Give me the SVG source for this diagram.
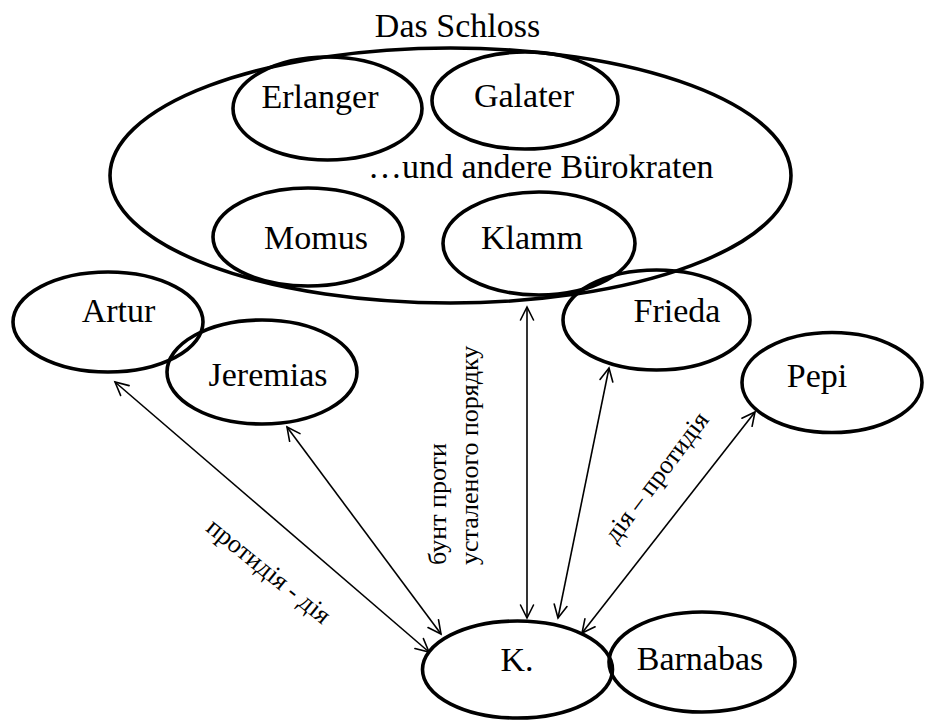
<svg xmlns="http://www.w3.org/2000/svg" width="936" height="720" viewBox="0 0 936 720">
  <style>
    .node { fill: none; stroke: #000; stroke-width: 3.6; }
    .lbl { font-family: "Times New Roman", "Liberation Serif", "DejaVu Serif", serif; font-size: 34px; fill: #000; text-anchor: middle; }
    .edge { fill: none; stroke: #000; stroke-width: 1.6; }
    .tip { fill: none; stroke: #000; stroke-width: 1.6; stroke-linecap: round; stroke-linejoin: miter; }
    .note { font-family: "Times New Roman", "Liberation Serif", "DejaVu Serif", serif; font-size: 26px; fill: #000; }
  </style>
  <rect width="936" height="720" fill="#fff"/>

  <!-- castle with its bureaucrats -->
  <g id="schloss">
    <ellipse class="node" cx="450.5" cy="175.5" rx="340.5" ry="127.5"/>
    <text class="lbl" x="457.5" y="37">Das Schloss</text>
    <text class="lbl" x="368" y="178" text-anchor="start" style="text-anchor:start">…und andere Bürokraten</text>
  </g>
  <g id="erlanger">
    <ellipse class="node" cx="327.5" cy="108.5" rx="94.5" ry="51.5"/>
    <text class="lbl" x="320" y="108">Erlanger</text>
  </g>
  <g id="galater">
    <ellipse class="node" cx="525" cy="100.5" rx="93" ry="48.5"/>
    <text class="lbl" x="524" y="107">Galater</text>
  </g>
  <g id="momus">
    <ellipse class="node" cx="308" cy="237" rx="95" ry="49"/>
    <text class="lbl" x="316" y="249">Momus</text>
  </g>
  <g id="klamm">
    <ellipse class="node" cx="539" cy="243.5" rx="96" ry="51.5"/>
    <text class="lbl" x="532" y="249">Klamm</text>
  </g>

  <!-- people around K. -->
  <g id="artur">
    <ellipse class="node" cx="108" cy="322" rx="95" ry="50"/>
    <text class="lbl" x="118.5" y="321.5">Artur</text>
  </g>
  <g id="jeremias">
    <ellipse class="node" cx="262" cy="372" rx="95" ry="52"/>
    <text class="lbl" x="268" y="386">Jeremias</text>
  </g>
  <g id="frieda">
    <ellipse class="node" cx="656.5" cy="320" rx="93.5" ry="50"/>
    <text class="lbl" x="677" y="322">Frieda</text>
  </g>
  <g id="pepi">
    <ellipse class="node" cx="832" cy="382.5" rx="90" ry="50"/>
    <text class="lbl" x="817" y="387">Pepi</text>
  </g>
  <g id="k">
    <ellipse class="node" cx="517.5" cy="669.5" rx="95" ry="48.5"/>
    <text class="lbl" x="517" y="671">K.</text>
  </g>
  <g id="barnabas">
    <ellipse class="node" cx="702" cy="662" rx="93" ry="50"/>
    <text class="lbl" x="700" y="670">Barnabas</text>
  </g>

  <!-- two-way relations, open V heads at both ends -->
  <g id="connectors">
    <line class="edge" x1="115" y1="382" x2="429" y2="652"/>
    <polyline class="tip" points="414.9,648.5 429,652 423.4,638.6"/>
    <polyline class="tip" points="120.6,395.4 115,382 129.1,385.6"/>

    <line class="edge" x1="287" y1="427" x2="441" y2="634"/>
    <polyline class="tip" points="428.0,627.5 441,634 438.5,619.7"/>
    <polyline class="tip" points="289.6,441.3 287,427 300.0,433.6"/>

    <line class="edge" x1="527" y1="307" x2="527" y2="618"/>
    <polyline class="tip" points="520.5,605 527,618 533.5,605"/>
    <polyline class="tip" points="520.5,320 527,307 533.5,320"/>

    <line class="edge" x1="609" y1="368" x2="558" y2="618"/>
    <polyline class="tip" points="554.2,604.0 558,618 567.0,606.6"/>
    <polyline class="tip" points="600.0,379.4 609,368 612.8,382.0"/>

    <line class="edge" x1="755" y1="412" x2="582" y2="633"/>
    <polyline class="tip" points="584.9,618.8 582,633 595.1,626.8"/>
    <polyline class="tip" points="741.9,418.2 755,412 752.1,426.3"/>

    <text class="note" text-anchor="middle" transform="translate(263.5 577.5) rotate(39)">протидія - дія</text>
    <text class="note" transform="translate(446 565) rotate(-90)">бунт проти</text>
    <text class="note" transform="translate(478 565) rotate(-90)">усталеного порядку</text>
    <text class="note" text-anchor="middle" transform="translate(663 482) rotate(-53)">дія – протидія</text>
  </g>
</svg>
